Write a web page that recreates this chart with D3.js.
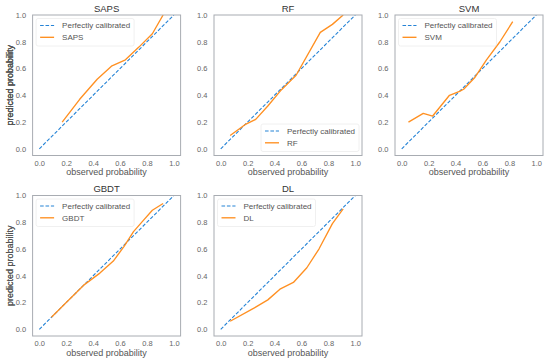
<!DOCTYPE html>
<html>
<head>
<meta charset="utf-8">
<script src="https://cdn.jsdelivr.net/npm/d3@7"></script>
<style>
  html, body { margin: 0; padding: 0; background: #fff; }
  svg { display: block; font-family: "Liberation Sans", Arial, sans-serif; }
</style>
</head>
<body>
<svg id="chart" width="550" height="363"></svg>
<script>
// ---- data ----
const models = ["SAPS", "RF", "SVM", "GBDT", "DL"];
const tickValues = [0.0, 0.2, 0.4, 0.6, 0.8, 1.0];
const perfectLine = [[0, 0], [1, 1]];
const sapsCurve = [[0.17, 0.20], [0.30, 0.37], [0.43, 0.52], [0.54, 0.62], [0.64, 0.665], [0.74, 0.76], [0.84, 0.86], [0.92, 1.0]];
const rfCurve = [[0.07, 0.10], [0.18, 0.18], [0.26, 0.22], [0.35, 0.32], [0.45, 0.44], [0.56, 0.55], [0.74, 0.87], [0.83, 0.93], [0.91, 1.0]];
const svmCurve = [[0.05, 0.20], [0.16, 0.265], [0.23, 0.245], [0.355, 0.40], [0.43, 0.43], [0.46, 0.445], [0.545, 0.535], [0.63, 0.665], [0.73, 0.80], [0.825, 0.95]];
const gbdtCurve = [[0.09, 0.09], [0.20, 0.20], [0.33, 0.33], [0.45, 0.42], [0.55, 0.51], [0.63, 0.62], [0.70, 0.73], [0.77, 0.81], [0.84, 0.89], [0.92, 0.94]];
const dlCurve = [[0.07, 0.06], [0.25, 0.16], [0.35, 0.22], [0.44, 0.30], [0.54, 0.35], [0.64, 0.46], [0.73, 0.60], [0.83, 0.79], [0.91, 0.90]];
const curves = [sapsCurve, rfCurve, svmCurve, gbdtCurve, dlCurve];
const legendLabel = "Perfectly calibrated";
const xLabel = "observed probability";
const yLabel = "predicted probability";

// ---- layout ----
const colLefts = [32.6, 214, 395];
const rowTops = [15, 195.5];
const W = 148, H = 140.5;
const legendPos = ["ul", "lr", "ul", "ul", "ul"];
const blue = "#2583d6", orange = "#ff9022";
const FONT = "'Liberation Sans', Arial, sans-serif";

const svg = d3.select("#chart");

models.forEach((name, i) => {
  const col = i % 3, row = Math.floor(i / 3);
  const L = colLefts[col], T = rowTops[row];
  const g = svg.append("g").attr("transform", `translate(${L},${T})`);
  const x = d3.scaleLinear().domain([-0.05, 1.05]).range([0, W]);
  const y = d3.scaleLinear().domain([-0.05, 1.0]).range([H, 0]);

  const clipId = "clip" + i;
  g.append("clipPath").attr("id", clipId).append("rect").attr("width", W).attr("height", H);

  const line = d3.line().x(d => x(d[0])).y(d => y(d[1]));
  const plot = g.append("g").attr("clip-path", `url(#${clipId})`);
  plot.append("path").datum(perfectLine).attr("d", line)
    .attr("fill", "none").attr("stroke", blue).attr("stroke-width", 1.1).attr("stroke-dasharray", "3.6,1.8");
  plot.append("path").datum(curves[i]).attr("d", line)
    .attr("fill", "none").attr("stroke", orange).attr("stroke-width", 1.35).attr("stroke-linejoin", "round");

  // axes
  const xAxis = d3.axisBottom(x).tickValues(tickValues).tickFormat(d3.format(".1f")).tickSize(0).tickPadding(5);
  const yAxis = d3.axisLeft(y).tickValues(tickValues).tickFormat(d3.format(".1f")).tickSize(0).tickPadding(6.5);
  const gx = g.append("g").attr("transform", `translate(0,${H})`).call(xAxis);
  const gy = g.append("g").call(yAxis);
  [gx, gy].forEach(a => {
    a.attr("font-family", FONT);
    a.select(".domain").remove();
    a.selectAll("text").attr("font-size", 7.5).attr("fill", "#666");
  });

  // frame
  g.append("rect").attr("width", W).attr("height", H).attr("fill", "none")
    .attr("stroke", "#a8acb2").attr("stroke-width", 1);

  // title
  g.append("text").attr("x", W / 2).attr("y", -3.5).attr("text-anchor", "middle")
    .attr("font-size", 9.5).attr("fill", "#333").text(name);
  // x label
  g.append("text").attr("x", W / 2).attr("y", H + 19.5).attr("text-anchor", "middle")
    .attr("font-size", 9).attr("fill", "#555").text(xLabel);
  // y label
  g.append("text").attr("transform", `translate(${-L + 12.8},${H / 2}) rotate(-90)`).attr("text-anchor", "middle")
    .attr("font-size", 9).attr("fill", "#555").text(yLabel);

  // legend
  const lw = 98, lh = 27.5;
  let lx, ly;
  if (legendPos[i] === "ul") { lx = 3.5; ly = 3.5; } else { lx = W - lw - 3; ly = H - lh - 4; }
  const lg = g.append("g").attr("transform", `translate(${lx},${ly})`);
  lg.append("rect").attr("width", lw).attr("height", lh).attr("rx", 2)
    .attr("fill", "#fff").attr("fill-opacity", 0.85).attr("stroke", "#ececec").attr("stroke-width", 0.8);
  const entries = [[legendLabel, blue, "3.6,1.8", 1.1], [name, orange, null, 1.35]];
  entries.forEach((e, k) => {
    const yy = 7 + k * 11.8;
    const ln = lg.append("line").attr("x1", 4).attr("x2", 18).attr("y1", yy).attr("y2", yy)
      .attr("stroke", e[1]).attr("stroke-width", e[3]);
    if (e[2]) ln.attr("stroke-dasharray", e[2]);
    lg.append("text").attr("x", 26).attr("y", yy + 2.9).attr("font-size", 8).attr("fill", "#555").text(e[0]);
  });
});
</script>
</body>
</html>
